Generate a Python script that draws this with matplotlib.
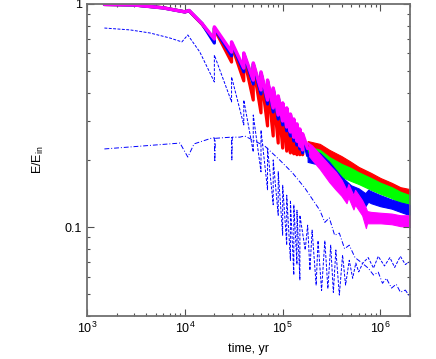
import matplotlib
matplotlib.use("Agg")
import matplotlib.pyplot as plt
from matplotlib.ticker import FixedLocator, FixedFormatter, LogLocator, NullFormatter

plt.rcParams['font.family'] = ['Liberation Sans', 'DejaVu Sans']
plt.rcParams['mathtext.fontset'] = 'custom'
plt.rcParams['mathtext.rm'] = 'Liberation Sans'
plt.rcParams['mathtext.it'] = 'Liberation Sans:italic'

# saw-tooth part, shared time grid (jumps at n*1e4 yr)
t_saw = [1.5e3, 3e3, 6e3, 1e4, 1.1e4, 1.5e4,
         2e4, 2e4, 3e4, 3e4, 4e4, 4e4, 5e4, 5e4, 6e4, 6e4, 7e4, 7e4,
         8e4, 8e4, 9e4, 9e4, 1e5, 1e5, 1.1e5, 1.1e5, 1.2e5, 1.2e5,
         1.3e5, 1.3e5, 1.4e5, 1.4e5, 1.5e5, 1.5e5, 1.6e5, 1.6e5, 1.8e5]
red_saw = [0.995, 0.99, 0.962, 0.922, 0.932, 0.81,
           0.690, 0.773, 0.549, 0.655, 0.452, 0.579, 0.371, 0.527,
           0.325, 0.481, 0.284, 0.442, 0.256, 0.408, 0.238, 0.375,
           0.226, 0.349, 0.219, 0.328, 0.215, 0.308, 0.213, 0.290,
           0.211, 0.272, 0.211, 0.259, 0.211, 0.246, 0.229]
green_saw = [0.995, 0.99, 0.96, 0.921, 0.934, 0.815,
             0.683, 0.780, 0.597, 0.668, 0.506, 0.597, 0.447, 0.538,
             0.403, 0.490, 0.364, 0.451, 0.335, 0.416, 0.311, 0.383,
             0.292, 0.356, 0.275, 0.338, 0.262, 0.318, 0.248, 0.302,
             0.238, 0.287, 0.226, 0.272, 0.217, 0.259, 0.217]
blue_saw = [0.995, 0.99, 0.96, 0.921, 0.934, 0.815,
            0.668, 0.780, 0.585, 0.668, 0.496, 0.597, 0.438, 0.538,
            0.395, 0.490, 0.356, 0.451, 0.328, 0.416, 0.305, 0.383,
            0.287, 0.356, 0.270, 0.338, 0.256, 0.318, 0.243, 0.302,
            0.233, 0.287, 0.224, 0.272, 0.215, 0.259, 0.209]
mag_saw = [0.995, 0.99, 0.96, 0.921, 0.935, 0.815,
           0.697, 0.789, 0.609, 0.676, 0.516, 0.603, 0.456, 0.544,
           0.412, 0.496, 0.371, 0.456, 0.342, 0.420, 0.318, 0.387,
           0.299, 0.360, 0.281, 0.342, 0.267, 0.321, 0.253, 0.305,
           0.243, 0.290, 0.231, 0.275, 0.222, 0.262, 0.225]

# noisy tails as bands (upper / lower edge)
t_rg = [1.8e5, 2.4e5, 3e5, 4e5, 5e5, 6e5, 8e5, 1e6, 1.3e6, 1.6e6, 2e6]
red_hi = [0.243, 0.236, 0.222, 0.208, 0.196, 0.186, 0.175, 0.166, 0.158, 0.151, 0.148]
red_lo = [0.215, 0.211, 0.200, 0.188, 0.176, 0.168, 0.158, 0.150, 0.142, 0.138, 0.135]
green_hi = [0.231, 0.222, 0.206, 0.192, 0.184, 0.176, 0.166, 0.158, 0.151, 0.144, 0.139]
green_lo = [0.204, 0.200, 0.184, 0.168, 0.161, 0.156, 0.147, 0.141, 0.135, 0.129, 0.127]

t_blue = [1.8e5, 2.4e5, 3e5, 4e5, 5e5, 6e5, 7e5, 7.5e5, 8e5, 1e6, 1.3e6, 1.6e6, 2e6]
blue_hi = [0.222, 0.215, 0.196, 0.168, 0.154, 0.149, 0.142, 0.147, 0.145, 0.139, 0.133, 0.129, 0.126]
blue_lo = [0.196, 0.190, 0.169, 0.147, 0.136, 0.131, 0.124, 0.130, 0.128, 0.124, 0.121, 0.117, 0.113]

t_mag = [1.8e5, 2e5, 2.4e5, 3e5, 3.5e5, 4e5, 4.5e5, 4.7e5, 5.3e5, 5.5e5, 6.5e5,
         7.1e5, 7.3e5, 8e5, 1e6, 1.3e6, 1.6e6, 2e6]
mag_hi = [0.240, 0.232, 0.212, 0.190, 0.177, 0.163, 0.147, 0.156, 0.139, 0.147, 0.132,
          0.122, 0.118, 0.117, 0.116, 0.115, 0.113, 0.113]
mag_lo = [0.212, 0.200, 0.182, 0.159, 0.147, 0.138, 0.128, 0.136, 0.120, 0.126, 0.113,
          0.099, 0.104, 0.104, 0.104, 0.103, 0.101, 0.100]

# thin blue curves
t_dash = [1.5e3, 2.75e3, 4.4e3, 7e3, 9.3e3, 1.07e4, 1.42e4,
          2e4, 2e4, 3e4, 3e4, 4e4, 4e4, 5e4, 5e4, 6e4, 6e4, 7e4, 7e4,
          8e4, 8e4, 9e4, 9e4, 1e5, 1e5, 1.1e5, 1.1e5, 1.2e5, 1.2e5,
          1.3e5, 1.3e5, 1.4e5, 1.4e5, 1.5e5, 1.5e5,
          1.7e5, 1.8e5, 1.9e5, 2.0e5, 2.2e5, 2.3e5, 2.5e5, 2.7e5, 2.9e5,
          3.1e5, 3.3e5, 3.5e5, 3.8e5, 4.1e5, 4.4e5, 4.8e5, 5.2e5, 5.6e5,
          6.0e5, 6.6e5, 7.5e5, 8.5e5, 9.5e5, 1.1e6, 1.25e6, 1.4e6, 1.6e6,
          1.8e6, 2e6]
v_dash = [0.780, 0.765, 0.741, 0.704, 0.676, 0.726, 0.609,
          0.447, 0.590, 0.364, 0.471, 0.287, 0.371, 0.217, 0.318, 0.177, 0.272,
          0.147, 0.226, 0.126, 0.200, 0.113, 0.177, 0.092, 0.154, 0.083, 0.139,
          0.071, 0.132, 0.061, 0.126, 0.068, 0.119, 0.058, 0.113,
          0.079, 0.102, 0.064, 0.097, 0.055, 0.087, 0.052, 0.087, 0.053,
          0.083, 0.051, 0.079, 0.0496, 0.075, 0.055, 0.071, 0.059, 0.069,
          0.063, 0.069, 0.073, 0.0655, 0.074, 0.067, 0.073, 0.066, 0.074,
          0.068, 0.070]

t_dd = [1.5e3, 8.9e3, 1.07e4, 1.24e4, 1.9e4, 2e4, 2.02e4, 2.05e4,
        2.97e4, 3e4, 3.02e4, 3.05e4, 3.64e4, 4.09e4, 5.18e4, 6.55e4,
        9.3e4, 1.26e5, 1.68e5, 2.4e5, 2.7e5, 3e5, 3.4e5, 3.8e5, 4.3e5,
        4.8e5, 5.5e5, 6.5e5, 7.5e5, 8.5e5, 9.5e5, 1.05e6, 1.15e6, 1.3e6,
        1.45e6, 1.6e6, 1.8e6, 2e6]
v_dd = [0.224, 0.238, 0.206, 0.236, 0.251, 0.251, 0.196, 0.250,
        0.253, 0.253, 0.200, 0.253, 0.253, 0.256, 0.243, 0.231,
        0.200, 0.175, 0.150, 0.119, 0.105, 0.110, 0.092, 0.094, 0.080,
        0.083, 0.073, 0.069, 0.0655, 0.061, 0.0628, 0.056, 0.059, 0.0533,
        0.0555, 0.0511, 0.0522, 0.0487]

fig = plt.figure(figsize=(4.36, 3.59), dpi=100)
ax = fig.add_axes([0.2, 0.12, 0.74, 0.869])

ax.plot(t_dash, v_dash, color='#0000ff', lw=0.7, ls=(0, (3, 1.5)))
ax.plot(t_dd, v_dd, color='#0000ff', lw=0.7, ls=(0, (5, 2, 1, 2)))

kw = dict(solid_joinstyle='round', solid_capstyle='round')
ax.plot(t_saw, red_saw, color='#ff0000', lw=2.3, **kw)
ax.fill_between(t_rg, red_lo, red_hi, color='#ff0000', lw=0.8, ec='#ff0000')
ax.plot(t_saw, green_saw, color='#00ff00', lw=2.3, **kw)
ax.fill_between(t_rg, green_lo, green_hi, color='#00ff00', lw=0.8, ec='#00ff00')
ax.plot(t_saw, blue_saw, color='#0000ff', lw=2.3, **kw)
ax.fill_between(t_blue, blue_lo, blue_hi, color='#0000ff', lw=0.8, ec='#0000ff')
ax.plot(t_saw, mag_saw, color='#ff00ff', lw=2.5, **kw)
ax.fill_between(t_mag, mag_lo, mag_hi, color='#ff00ff', lw=0.8, ec='#ff00ff')

ax.set_xscale('log')
ax.set_yscale('log')
ax.set_xlim(1e3, 2e6)
ax.set_ylim(0.04, 1)

ax.yaxis.set_major_locator(FixedLocator([0.1, 1]))
ax.yaxis.set_major_formatter(FixedFormatter(['0.1', '1']))
ax.yaxis.set_minor_locator(LogLocator(base=10, subs=range(2, 10)))
ax.yaxis.set_minor_formatter(NullFormatter())
ax.xaxis.set_minor_locator(LogLocator(base=10, subs=range(2, 10)))
ax.xaxis.set_minor_formatter(NullFormatter())

ax.tick_params(which='both', direction='in', top=True, right=True,
               labelsize=9, colors='#505050', labelcolor='black')
ax.tick_params(which='major', length=5, width=0.8)
ax.tick_params(which='minor', length=2.5, width=0.8)
for s in ax.spines.values():
    s.set_color('#707070')
    s.set_linewidth(1.3)

ax.set_xlabel('time, yr', fontsize=9, labelpad=5)
ax.set_ylabel(r'E/E$_{\rm in}$', fontsize=9, labelpad=14)

fig.savefig('out.png', dpi=100)
